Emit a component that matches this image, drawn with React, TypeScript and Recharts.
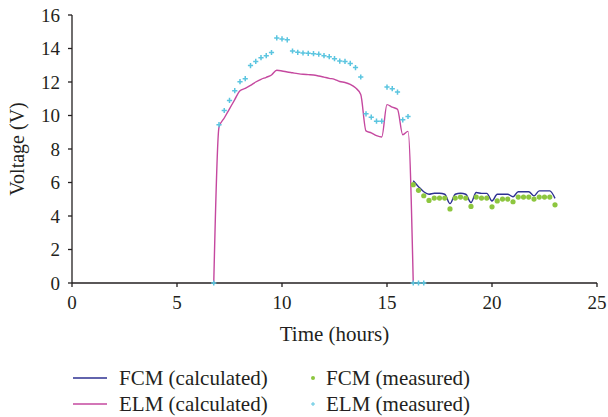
import { ComposedChart, Line, Scatter, XAxis, YAxis, Legend, Label } from 'recharts';

// hours of the day (15 min steps)
const elmHours = [6.75, 7, 7.25, 7.5, 7.75, 8, 8.25, 8.5, 8.75, 9, 9.25, 9.5, 9.75, 10, 10.25, 10.5, 10.75, 11, 11.25, 11.5, 11.75, 12, 12.25, 12.5, 12.75, 13, 13.25, 13.5, 13.75, 14, 14.25, 14.5, 14.75, 15, 15.25, 15.5, 15.75, 16, 16.25, 16.5, 16.75];
const elmCalculated = [0, 9.3, 9.85, 10.4, 10.95, 11.48, 11.62, 11.8, 12.0, 12.16, 12.28, 12.42, 12.7, 12.66, 12.6, 12.55, 12.5, 12.46, 12.44, 12.42, 12.36, 12.29, 12.22, 12.16, 12.03, 11.97, 11.86, 11.65, 11.25, 9.08, 8.96, 8.8, 8.72, 10.65, 10.5, 10.37, 8.85, 9.05, 0, null, null];
const elmMeasured = [0, 9.45, 10.3, 10.9, 11.48, 12.02, 12.2, 12.98, 13.23, 13.45, 13.57, 13.76, 14.63, 14.57, 14.52, 13.85, 13.77, 13.73, 13.71, 13.69, 13.66, 13.57, 13.51, 13.39, 13.25, 13.23, 13.11, 12.86, 12.3, 10.1, 9.9, 9.66, 9.66, 11.7, 11.6, 11.4, 9.74, 9.94, 0, 0, 0];

const fcmHours = [16.25, 16.5, 16.75, 17, 17.25, 17.5, 17.75, 18, 18.25, 18.5, 18.75, 19, 19.25, 19.5, 19.75, 20, 20.25, 20.5, 20.75, 21, 21.25, 21.5, 21.75, 22, 22.25, 22.5, 22.75, 23];
const fcmCalculated = [6.1, 5.75, 5.45, 5.3, 5.36, 5.36, 5.3, 4.74, 5.3, 5.36, 5.3, 4.8, 5.4, 5.35, 5.35, 4.9, 5.3, 5.3, 5.3, 5.15, 5.45, 5.45, 5.45, 5.2, 5.5, 5.5, 5.5, 5.05];
const fcmMeasured = [5.87, 5.53, 5.21, 4.93, 5.07, 5.07, 5.07, 4.42, 5.07, 5.13, 5.07, 4.57, 5.13, 5.07, 5.07, 4.55, 4.9, 5.01, 5.01, 4.85, 5.13, 5.13, 5.13, 5.01, 5.13, 5.13, 5.13, 4.67];

const xTicks = [0, 5, 10, 15, 20, 25];
const yTicks = [0, 2, 4, 6, 8, 10, 12, 14, 16];

const FONT = '"Liberation Serif", "DejaVu Serif", serif';
const INK = '#231f20';
const FCM_LINE = '#2e3092';
const ELM_LINE = '#c5489f';
const FCM_DOT = '#8dc63f';
const ELM_CROSS = '#5bc5e0';

const toPoints = (xs: number[], ys: (number | null)[]) =>
  xs.map((x, i) => ({ x, y: ys[i] })).filter((p) => p.y !== null);

const elmCalcData = toPoints(elmHours, elmCalculated);
const elmMeasData = toPoints(elmHours, elmMeasured);
const fcmCalcData = toPoints(fcmHours, fcmCalculated);
const fcmMeasData = toPoints(fcmHours, fcmMeasured);

const Dot = (props: any) => <circle cx={props.cx} cy={props.cy} r={2.6} fill={FCM_DOT} />;

const Cross = (props: any) => {
  const { cx, cy } = props;
  return (
    <path d={`M${cx - 2.6},${cy}h5.2M${cx},${cy - 2.6}v5.2`} stroke={ELM_CROSS} strokeWidth={1.5} fill="none" />
  );
};

const renderLegend = () => {
  const text = { position: 'absolute' as const, fontFamily: FONT, fontSize: 21, color: INK, lineHeight: '20px', whiteSpace: 'nowrap' as const };
  return (
    <div style={{ position: 'relative', width: 608, height: 52 }}>
      <svg width={608} height={52} style={{ position: 'absolute', left: 0, top: 0 }}>
        <line x1={73} x2={107} y1={18} y2={18} stroke={FCM_LINE} strokeWidth={1.4} />
        <line x1={73} x2={107} y1={44} y2={44} stroke={ELM_LINE} strokeWidth={1.4} />
        <circle cx={313} cy={18} r={2} fill={FCM_DOT} />
        <path d="M311,44h4M313,42v4" stroke={ELM_CROSS} strokeWidth={1} />
      </svg>
      <span style={{ ...text, left: 119, top: 8 }}>FCM (calculated)</span>
      <span style={{ ...text, left: 119, top: 34 }}>ELM (calculated)</span>
      <span style={{ ...text, left: 326, top: 8 }}>FCM (measured)</span>
      <span style={{ ...text, left: 326, top: 34 }}>ELM (measured)</span>
    </div>
  );
};

const YTick = (props: any) => {
  const { x, y, payload } = props;
  return (
    <text x={x} y={y} dy={6.5} textAnchor="end" fontFamily={FONT} fontSize={19} fill={INK}>
      {payload.value}
    </text>
  );
};

const App = () => {
  return (
    <div style={{ position: 'absolute', left: 0, top: 0, background: '#fff' }}>
      <ComposedChart width={608} height={417} margin={{ top: 15, right: 11, bottom: 22, left: 0 }}>
        <XAxis
          dataKey="x"
          type="number"
          domain={[0, 25]}
          ticks={xTicks}
          tickSize={4}
          tickMargin={9}
          height={60}
          stroke={INK}
          strokeWidth={1.3}
          tick={{ fontFamily: FONT, fontSize: 19, fill: INK }}
        >
          <Label
            content={(p: any) => {
              const vb = p.viewBox;
              return (
                <text x={vb.x + vb.width / 2} y={341} textAnchor="middle" fontFamily={FONT} fontSize={21} fill={INK}>
                  Time (hours)
                </text>
              );
            }}
          />
        </XAxis>
        <XAxis xAxisId="top" orientation="top" type="number" domain={[0, 25]} tick={false} tickLine={false} height={0} axisLine={{ stroke: '#b5b5b5', strokeWidth: 1.2 }} />
        <YAxis
          dataKey="y"
          type="number"
          domain={[0, 16]}
          ticks={yTicks}
          tickSize={4}
          tickMargin={8}
          width={72}
          stroke={INK}
          strokeWidth={1.3}
          tick={<YTick />}
        >
          <Label
            content={() => (
              <text x={24} y={149} transform="rotate(-90 24 149)" textAnchor="middle" fontFamily={FONT} fontSize={20} fill={INK}>
                Voltage (V)
              </text>
            )}
          />
        </YAxis>
        <YAxis yAxisId="right" orientation="right" type="number" domain={[0, 16]} tick={false} tickLine={false} width={0} axisLine={{ stroke: INK, strokeWidth: 1.3 }} />
        <Line data={elmCalcData} dataKey="y" name="ELM (calculated)" type="monotone" stroke={ELM_LINE} strokeWidth={1.4} dot={false} isAnimationActive={false} />
        <Line data={fcmCalcData} dataKey="y" name="FCM (calculated)" type="monotone" stroke={FCM_LINE} strokeWidth={1.4} dot={false} isAnimationActive={false} />
        <Scatter data={fcmMeasData} dataKey="y" name="FCM (measured)" shape={<Dot />} isAnimationActive={false} />
        <Scatter data={elmMeasData} dataKey="y" name="ELM (measured)" shape={<Cross />} isAnimationActive={false} />
        <Legend content={renderLegend} wrapperStyle={{ top: 360, left: 0, bottom: 'auto', width: 608, height: 52, margin: 0 }} />
      </ComposedChart>
    </div>
  );
};

export default App;
